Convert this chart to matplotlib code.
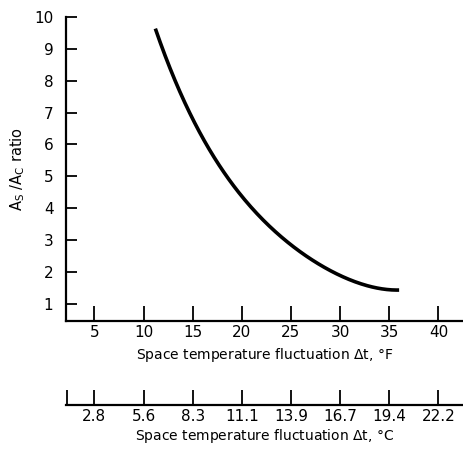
import numpy as np
import matplotlib.pyplot as plt

# curve (deg F, ratio)
dt_f = [11.2, 13.4, 15.1, 16.7, 19.9, 21.8, 23.4, 25.5, 26.8, 28.9, 30.2, 32.2, 33.6, 34.2, 36.0]
ratio = [9.62, 7.91, 6.75, 5.80, 4.40, 3.72, 3.30, 2.74, 2.46, 2.03, 1.83, 1.62, 1.50, 1.48, 1.42]

f_ticks = [5, 10, 15, 20, 25, 30, 35, 40]
c_labels = ['2.8', '5.6', '8.3', '11.1', '13.9', '16.7', '19.4', '22.2']
y_ticks = [1, 2, 3, 4, 5, 6, 7, 8, 9, 10]

plt.rcParams['font.family'] = 'DejaVu Sans'

fig = plt.figure(figsize=(4.64, 4.51), dpi=100)
xlim = (2.1, 42.6)

# smooth the read points a bit
xs = np.linspace(dt_f[0], dt_f[-1], 200)
coef = np.polyfit(dt_f, ratio, 4)
ys = np.polyval(coef, xs)

ax = fig.add_axes([0.142, 0.288, 0.858, 0.674])
ax.plot(xs, ys, color='black', linewidth=2.6, solid_capstyle='butt')
ax.set_xlim(*xlim)
ax.set_ylim(0.45, 10)
for s in ['top', 'right']:
    ax.spines[s].set_visible(False)
for s in ['left', 'bottom']:
    ax.spines[s].set_linewidth(1.6)
ax.set_xticks(f_ticks)
ax.set_yticks(y_ticks)
ax.tick_params(axis='x', direction='in', length=11, width=1.3, labelsize=11, pad=3)
ax.tick_params(axis='y', direction='in', length=8, width=1.3, labelsize=11, pad=9)
ax.set_xlabel('Space temperature fluctuation $\\Delta$t, °F', fontsize=10, labelpad=4)
ax.set_ylabel('A$_\\mathregular{S}$ /A$_\\mathregular{C}$ ratio', fontsize=10.5, labelpad=5)

# celsius scale underneath
ax2 = fig.add_axes([0.142, 0.102, 0.858, 0.01])
ax2.set_xlim(*xlim)
ax2.set_yticks([])
for s in ['top', 'right', 'left']:
    ax2.spines[s].set_visible(False)
ax2.spines['bottom'].set_linewidth(1.6)
ax2.patch.set_alpha(0)
ax2.set_xticks(f_ticks)
ax2.set_xticklabels(c_labels)
ax2.set_xticks([xlim[0] + 0.1], minor=True)
ax2.tick_params(axis='x', which='both', direction='in', length=11, width=1.3, labelsize=11, pad=3)
ax2.set_xlabel('Space temperature fluctuation $\\Delta$t, °C', fontsize=10, labelpad=2)

fig.savefig('out.png', dpi=100)
